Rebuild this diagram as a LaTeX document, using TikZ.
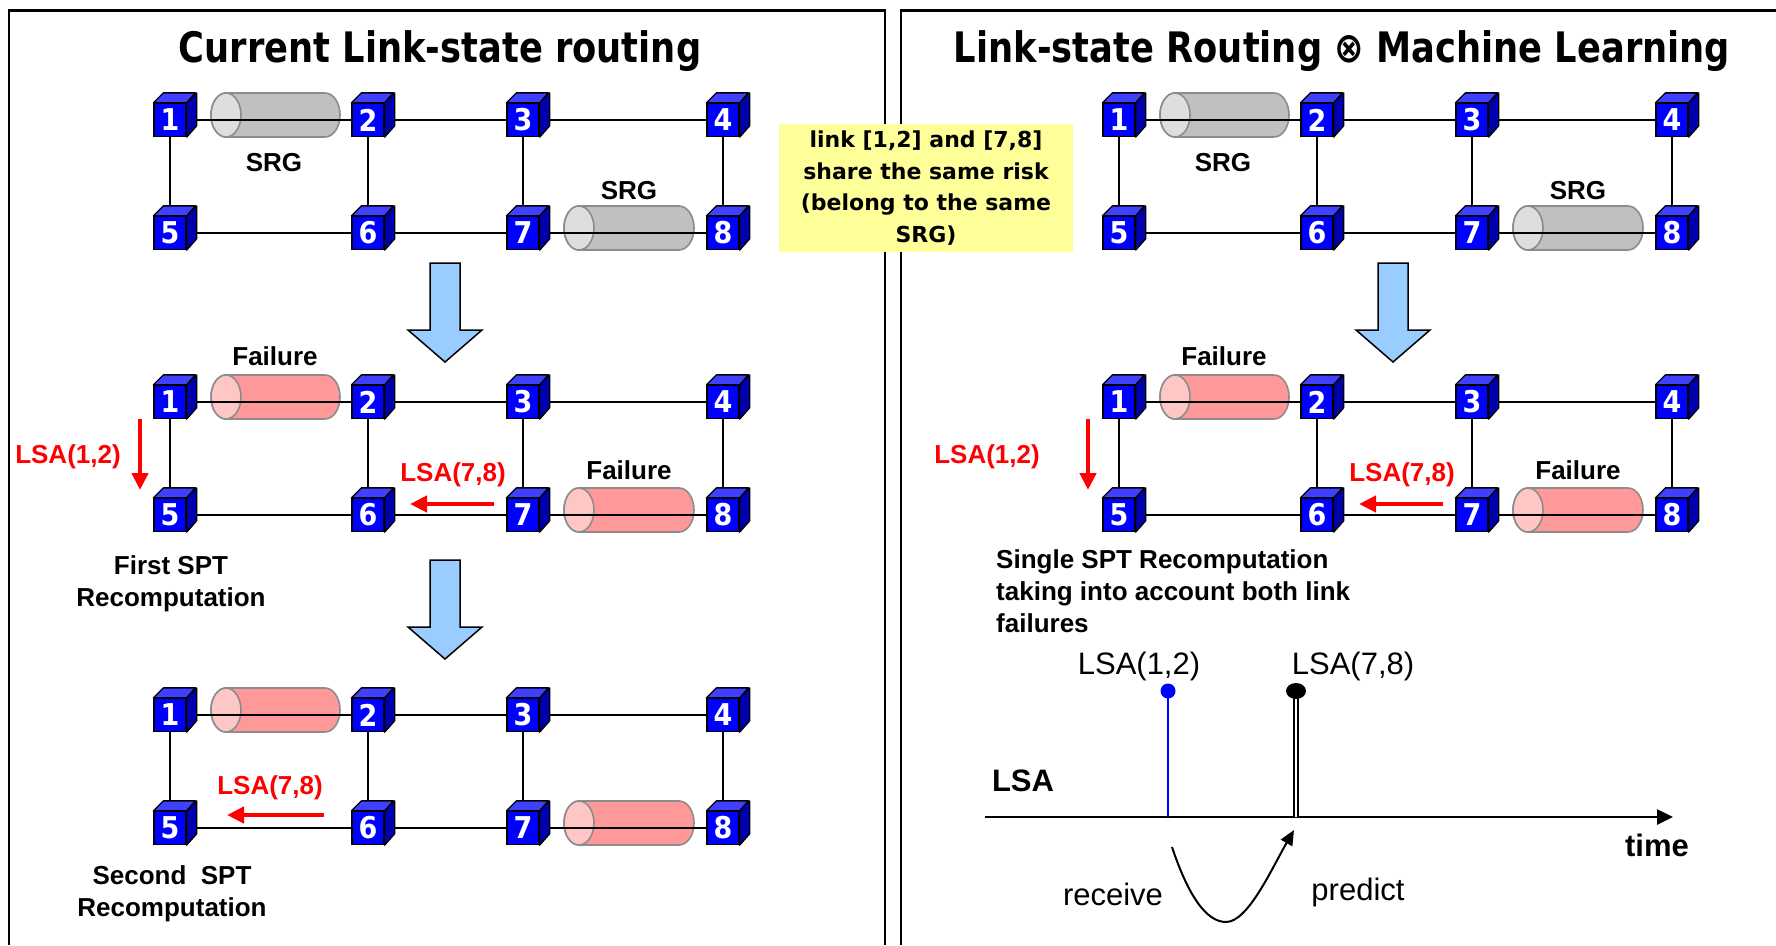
\documentclass[tikz,border=0pt]{standalone}
\usepackage{fontspec}
\setmainfont{Liberation Sans}
\newfontfamily\dvs{DejaVu Sans}
\newfontfamily\dvstitle{DejaVu Sans}[FakeStretch=0.84]
\newfontfamily\dvsdigit{DejaVu Sans}[FakeStretch=0.9]
\usetikzlibrary{arrows.meta,backgrounds,shapes.geometric}

\definecolor{cubefront}{RGB}{0,0,255}
\definecolor{cubetop}{RGB}{64,64,255}
\definecolor{cubeside}{RGB}{0,0,176}
\definecolor{srggray}{RGB}{192,192,192}
\definecolor{srggrayface}{RGB}{222,222,222}
\definecolor{srgred}{RGB}{255,153,153}
\definecolor{srgredface}{RGB}{255,198,198}
\definecolor{srgedge}{RGB}{140,140,140}
\definecolor{flowblue}{RGB}{153,204,255}
\definecolor{notebg}{RGB}{255,255,153}

% one router: blue front face with a lighter top and a darker side
\newcommand\netcube[4]{%
  \node[cubenode] (#1) at (#2,#3) {#4};
  \filldraw[cubeface, fill=cubetop] (#1.north west) -- ++(10,-10) -- ++(32,0) -- (#1.north east) -- cycle;
  \filldraw[cubeface, fill=cubeside] (#1.north east) -- ++(10,-10) -- ++(0,33) -- (#1.south east) -- cycle;
}

% shared risk group drawn as a horizontal tube: left end, right end, centre y, body, end face
\newcommand\srgcyl[5]{%
  \filldraw[tube, fill=#4] (#1+15,#3-22) -- (#2-15,#3-22)
     arc[start angle=90, end angle=-90, x radius=15pt, y radius=22pt]
     -- (#1+15,#3+22)
     arc[start angle=270, end angle=90, x radius=15pt, y radius=22pt] -- cycle;
  \filldraw[tube, fill=#5] (#1+15,#3) ellipse[x radius=15pt, y radius=22pt];
}

% eight-router topology: prefix, x of router 1, y of top row, tube body, tube face
\newcommand\network[5]{%
  \netcube{#1-1}{#2}{#3}{1}%
  \netcube{#1-2}{#2+198}{#3}{2}%
  \netcube{#1-3}{#2+353}{#3}{3}%
  \netcube{#1-4}{#2+553}{#3}{4}%
  \netcube{#1-5}{#2}{#3+113}{5}%
  \netcube{#1-6}{#2+198}{#3+113}{6}%
  \netcube{#1-7}{#2+353}{#3+113}{7}%
  \netcube{#1-8}{#2+553}{#3+113}{8}%
  \begin{scope}[on background layer]
    \srgcyl{#2+41}{#2+170}{#3-5}{#4}{#5}%
    \srgcyl{#2+394}{#2+524}{#3+108}{#4}{#5}%
    \draw[link] (#1-1) -- (#1-2) -- (#1-3) -- (#1-4);
    \draw[link] (#1-5) -- (#1-6) -- (#1-7) -- (#1-8);
    \draw[link] (#1-1) -- (#1-5) (#1-2) -- (#1-6) (#1-3) -- (#1-7) (#1-4) -- (#1-8);
  \end{scope}
}

% wide light-blue step arrow: centre x, top y
\newcommand\steparrow[2]{%
  \filldraw[flow] (#1-15,#2) -- (#1+15,#2) -- (#1+15,#2+67) -- (#1+37,#2+67)
     -- (#1,#2+99) -- (#1-37,#2+67) -- (#1-15,#2+67) -- cycle;
}

\begin{document}
\begin{tikzpicture}[x=1pt,y=-1pt,
  cubenode/.style={draw=black, line width=1.3, fill=cubefront, minimum width=32,
    minimum height=33, inner sep=0, text=white,
    font=\dvsdigit\bfseries\fontsize{30}{30}\selectfont},
  cubeface/.style={draw=black, line width=1.3, line join=round},
  tube/.style={draw=srgedge, line width=1.6},
  link/.style={black, line width=2},
  flow/.style={draw=black, line width=1.5, fill=flowblue, line join=miter},
  panel/.style={black, line width=2.5},
  titletext/.style={font=\dvstitle\bfseries\fontsize{42}{42}\selectfont, inner sep=0, anchor=base},
  lbl/.style={font=\bfseries\fontsize{26}{32}\selectfont, align=center, inner sep=0},
  redlbl/.style={lbl, text=red},
  lsaarrow/.style={red, line width=4.5, -{Triangle[length=17pt,width=16pt]}},
  plainlbl/.style={font=\fontsize{31}{31}\selectfont, inner sep=0},
  boldlbl/.style={font=\bfseries\fontsize{31}{31}\selectfont, inner sep=0},
  note/.style={fill=notebg, minimum width=294, minimum height=128, align=center,
    font=\dvs\bfseries\fontsize{22}{31.5}\selectfont, inner sep=0}
]
\useasboundingbox (0,0) rectangle (1776,945);
\begin{scope}[on background layer]
  \fill[white] (0,0) rectangle (1776,945);
\end{scope}

% panel frames
\draw[panel] (9,945) -- (9,10.5) -- (885,10.5) -- (885,945);
\draw[panel] (901,945) -- (901,10.5) -- (1776,10.5);

% titles
\node[titletext] (ltitle) at (440,62) {Current Link-state routing};
\node[titletext] (rtitle) at (1342,62) {Link-state Routing ⊗ Machine Learning};

% ---------- left panel ----------
\network{la}{170}{120}{srggray}{srggrayface}
\node[lbl] (la-srg1) at (274,163) {SRG};
\node[lbl] (la-srg2) at (629,191) {SRG};
\steparrow{445}{263}

\network{lb}{170}{402}{srgred}{srgredface}
\node[lbl] (lb-fail1) at (275,356) {Failure};
\node[lbl] (lb-fail2) at (629,470) {Failure};
\node[redlbl] (lb-lsa12) at (68,457) {LSA(1,2)};
\coordinate (lb-d0) at (140,419);
\coordinate (lb-d1) at (140,490);
\draw[lsaarrow] (lb-d0) -- (lb-d1);
\node[redlbl] (lb-lsa78) at (453,475) {LSA(7,8)};
\coordinate (lb-h0) at (494,504);
\coordinate (lb-h1) at (410,504);
\draw[lsaarrow] (lb-h0) -- (lb-h1);
\node[lbl] (lb-note) at (171,584) {First SPT\\Recomputation};
\steparrow{445}{560}

\network{lc}{170}{715}{srgred}{srgredface}
\node[redlbl] (lc-lsa78) at (270,788) {LSA(7,8)};
\coordinate (lc-h0) at (324,815);
\coordinate (lc-h1) at (227,815);
\draw[lsaarrow] (lc-h0) -- (lc-h1);
\node[lbl] (lc-note) at (172,894) {Second\ \ SPT\\Recomputation};

% ---------- right panel ----------
\network{ra}{1119}{120}{srggray}{srggrayface}
\node[lbl] (ra-srg1) at (1223,163) {SRG};
\node[lbl] (ra-srg2) at (1578,191) {SRG};
\steparrow{1393}{263}

\network{rb}{1119}{402}{srgred}{srgredface}
\node[lbl] (rb-fail1) at (1224,356) {Failure};
\node[lbl] (rb-fail2) at (1578,470) {Failure};
\node[redlbl] (rb-lsa12) at (987,457) {LSA(1,2)};
\coordinate (rb-d0) at (1088,419);
\coordinate (rb-d1) at (1088,490);
\draw[lsaarrow] (rb-d0) -- (rb-d1);
\node[redlbl] (rb-lsa78) at (1402,475) {LSA(7,8)};
\coordinate (rb-h0) at (1443,504);
\coordinate (rb-h1) at (1359,504);
\draw[lsaarrow] (rb-h0) -- (rb-h1);
\node[lbl, align=left, anchor=west] (rb-note) at (996,591)
  {Single SPT Recomputation\\taking into account both link\\failures};

% LSA time line
\coordinate (ax0) at (985,817);
\coordinate (ax1) at (1673,817);
\draw[black, line width=2.5, -{Triangle[length=16pt,width=15pt]}] (ax0) -- (ax1);
\node[boldlbl] (lsa) at (1023,781) {LSA};
\node[boldlbl] (time) at (1657,845) {time};

\coordinate (rcv) at (1168,817);
\node[circle, fill=blue, inner sep=0, minimum size=15] (rdot) at (1168,691) {};
\draw[blue, line width=1.8] (rcv) -- (rdot.center);
\node[plainlbl] (rlsa) at (1139,666) {LSA(1,2)};

\coordinate (prd) at (1296,817);
\draw[black, line width=1.7, double, double distance=1.8] (prd) -- (1296,691);
\node[ellipse, fill=black, inner sep=0, minimum width=20, minimum height=16] (pdot) at (1296,691) {};
\node[plainlbl] (plsa) at (1353,666) {LSA(7,8)};

\coordinate (cv0) at (1172,847);
\coordinate (cvb) at (1226,922);
\coordinate (cv1) at (1294,830);
\draw[black, line width=2, -{Triangle[length=15pt,width=13pt]}]
  (cv0) .. controls (1188,895) and (1206,922) .. (cvb)
        .. controls (1248,922) and (1272,868) .. (cv1);
\node[plainlbl] (recv) at (1113,894) {receive};
\node[plainlbl] (pred) at (1358,892) {predict};

% shared-risk note, laid over the panel gap
\node[note] (srgnote) at (926,188)
  {link [1,2] and [7,8]\\share the same risk\\(belong to the same\\SRG)};
\end{tikzpicture}
\end{document}
